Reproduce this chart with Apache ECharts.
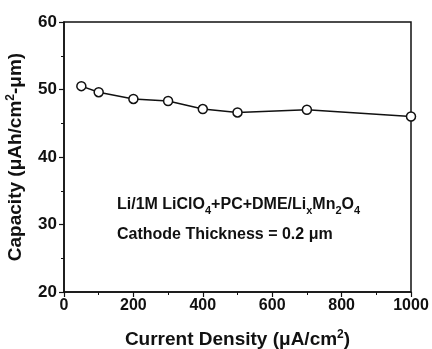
<!DOCTYPE html>
<html>
<head>
<meta charset="utf-8">
<script src="https://cdn.jsdelivr.net/npm/echarts@6/dist/echarts.min.js"></script>
<style>
  html, body { margin: 0; padding: 0; background: #fff; }
  #chart { width: 432px; height: 349px; }
</style>
</head>
<body>
<div id="chart"></div>
<script>
// current density (uA/cm2) vs capacity (uAh/cm2-um)
const currentDensity = [50, 100, 200, 300, 400, 500, 700, 1000];
const capacity = [50.5, 49.6, 48.6, 48.3, 47.1, 46.6, 47.0, 46.0];

const FONT = '"Liberation Sans", Arial, sans-serif';
const INK = '#111';

const chart = echarts.init(document.getElementById('chart'));

const axisCommon = {
  axisLine: { show: true, lineStyle: { color: INK, width: 1.5 } },
  axisTick: { show: true, inside: false, length: 5, lineStyle: { color: INK, width: 1.2 } },
  minorTick: { show: true, splitNumber: 2, length: 3, lineStyle: { color: INK, width: 1 } },
  splitLine: { show: false },
  axisLabel: { color: INK, fontFamily: FONT, fontWeight: 'bold', fontSize: 16, formatter: v => String(v) },
  nameLocation: 'middle',
  nameTextStyle: {
    color: INK, fontFamily: FONT, fontWeight: 'bold', fontSize: 19,
    rich: {
      sup: { fontSize: 12, fontFamily: FONT, fontWeight: 'bold', color: INK, verticalAlign: 'top', lineHeight: 22 }
    }
  }
};

const richText = {
  sub: { fontSize: 11, fontFamily: FONT, fontWeight: 'bold', fill: INK, verticalAlign: 'bottom', lineHeight: 22 }
};

chart.setOption({
  animation: false,
  grid: {
    left: 64, right: 21, top: 22, bottom: 57,
    outerBoundsMode: 'none',
    show: true, borderColor: INK, borderWidth: 1.5
  },
  xAxis: {
    ...axisCommon,
    type: 'value',
    min: 0, max: 1000, interval: 200,
    name: 'Current Density (μA/cm{sup|2})',
    nameGap: 37,
    axisLabel: { ...axisCommon.axisLabel, margin: 6 }
  },
  yAxis: {
    ...axisCommon,
    type: 'value',
    min: 20, max: 60, interval: 10,
    name: 'Capacity (μAh/cm{sup|2}-μm)',
    nameGap: 37,
    axisLabel: { ...axisCommon.axisLabel, fontSize: 17, margin: 7 }
  },
  graphic: [
    {
      type: 'text', left: 117, top: 197,
      style: {
        text: 'Li/1M LiClO{sub|4}+PC+DME/Li{sub|x}Mn{sub|2}O{sub|4}',
        font: 'bold 16px ' + FONT, fill: INK, rich: richText
      }
    },
    {
      type: 'text', left: 117, top: 227,
      style: { text: 'Cathode Thickness = 0.2 μm', font: 'bold 16px ' + FONT, fill: INK }
    }
  ],
  series: [{
    type: 'line',
    data: currentDensity.map((x, i) => [x, capacity[i]]),
    symbol: 'circle',
    symbolSize: 9,
    showAllSymbol: true,
    lineStyle: { color: INK, width: 1.5 },
    itemStyle: { color: '#fff', borderColor: INK, borderWidth: 1.5 }
  }]
});
</script>
</body>
</html>
